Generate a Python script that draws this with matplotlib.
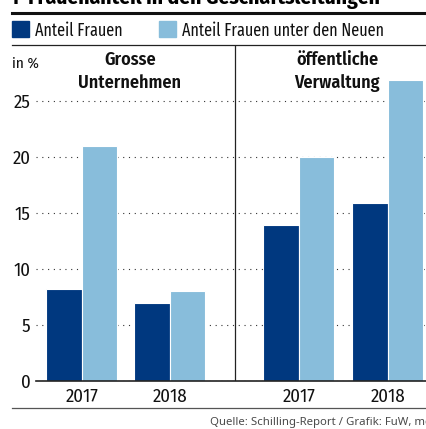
import matplotlib.pyplot as plt
from matplotlib.lines import Line2D
from matplotlib.patches import Rectangle

# Data
years = ['2017', '2018']
panel_titles = [('Grosse', 'Unternehmen'), ('öffentliche', 'Verwaltung')]
anteil_frauen = [8.2, 7.0, 13.9, 15.9]
anteil_neue = [21.0, 8.0, 20.0, 26.9]
y_ticks = [0, 5, 10, 15, 20, 25]

dark = '#00387f'
light = '#88bddb'

W, H = 427, 429
plt.rcParams['font.family'] = ['Fira Sans Condensed', 'DejaVu Sans']

fig = plt.figure(figsize=(W / 100, H / 100), dpi=100)


def fx(x):
    return x / W


def fy(y):
    return 1 - y / H


# axes in pixel layout: left edge 36px, baseline at 381px, top at 45px
ax = fig.add_axes([fx(36), fy(381), fx(W - 36), (381 - 45) / H])
ax.set_xlim(0, W - 36)
ax.set_ylim(0, 30)

group_x = [46, 134, 263, 352]
bar_w = 35.5
ax.bar([g - bar_w / 2 for g in group_x], anteil_frauen, width=bar_w,
       color=dark, edgecolor='white', linewidth=0.8, zorder=2)
ax.bar([g + bar_w / 2 for g in group_x], anteil_neue, width=bar_w,
       color=light, edgecolor='white', linewidth=0.8, zorder=2)

ax.set_yticks(y_ticks)
ax.set_yticklabels([str(t) for t in y_ticks], fontsize=13.5, color='#111111')
ax.tick_params(axis='y', length=0, pad=4)
ax.yaxis.grid(True, color='#333333', linestyle=(0, (1, 4.2)), linewidth=0.8)
ax.set_axisbelow(True)

ax.set_xticks(group_x)
ax.set_xticklabels(years * 2, fontsize=13.5, color='#111111')
ax.tick_params(axis='x', length=0, pad=5)

for s in ['top', 'right', 'left']:
    ax.spines[s].set_visible(False)
ax.spines['bottom'].set_linewidth(1.2)
ax.spines['bottom'].set_color('#222222')
ax.spines['bottom'].set_zorder(3)

# divider between the panels
ax.axvline(199, color='#222222', linewidth=0.9, zorder=3)

# panel titles
for cx, (l1, l2) in zip([130, 337], panel_titles):
    fig.text(fx(cx), fy(65), l1, ha='center', va='baseline',
             fontsize=13, fontweight='semibold', color='#111111')
    fig.text(fx(cx), fy(88), l2, ha='center', va='baseline',
             fontsize=13, fontweight='semibold', color='#111111')
fig.text(fx(12), fy(68), 'in %', ha='left', va='baseline', fontsize=11,
         color='#111111')

# title (cut off at the top in the reference)
fig.text(fx(10), fy(4), '1  Frauenanteil in den Geschäftsleitungen',
         ha='left', va='baseline', fontsize=15.5, fontweight='bold')

# rules
fig.add_artist(Line2D([fx(12), 1], [fy(13), fy(13)], color='#111111', linewidth=2.2))
fig.add_artist(Line2D([fx(12), 1], [fy(45), fy(45)], color='#222222', linewidth=0.9))
fig.add_artist(Line2D([fx(12), 1], [fy(408), fy(408)], color='#555555', linewidth=0.9))

# legend
for x0, col, lab in [(12, dark, 'Anteil Frauen'), (159, light, 'Anteil Frauen unter den Neuen')]:
    fig.add_artist(Rectangle((fx(x0), fy(37)), fx(17), 16 / H, color=col,
                             transform=fig.transFigure))
    fig.text(fx(x0 + 23), fy(36), lab, ha='left', va='baseline', fontsize=12.6,
             color='#111111', family=['Fira Sans Extra Condensed', 'Fira Sans Condensed'])

fig.text(fx(210), fy(425), 'Quelle: Schilling-Report / Grafik: FuW, mg',
         ha='left', va='baseline', fontsize=8.2, color='#4a4a4a', family='Noto Sans')

fig.savefig('out.png', dpi=100)
